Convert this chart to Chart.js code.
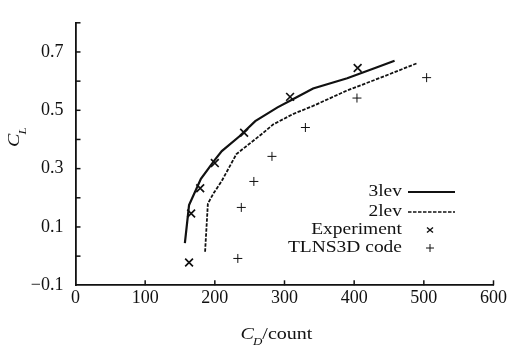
<!DOCTYPE html>
<html><head><meta charset="utf-8">
<script src="https://cdn.jsdelivr.net/npm/chart.js@4/dist/chart.umd.min.js"></script>
<style>html,body{margin:0;padding:0;background:#fff}#wrap{width:509px;height:346px;position:relative}</style>
</head><body><div id="wrap"><canvas id="c" width="509" height="346"></canvas></div>
<script>
// Data
const lev3X = [157,163,180,200,210,235,258,290,310,341,390,430,458];
const lev3Y = [0.045,0.175,0.265,0.33,0.36,0.41,0.463,0.51,0.535,0.575,0.61,0.645,0.67];
const lev2X = [186,190,198,210,231,267,284,313,341,389,437,490];
const lev2Y = [0.015,0.18,0.215,0.258,0.35,0.418,0.452,0.488,0.515,0.567,0.611,0.661];
const expX = [163,166,179,200,242,308,405];
const expY = [-0.022,0.146,0.233,0.319,0.423,0.546,0.645];
const tlnsX = [233,238,256,282,330,404,504];
const tlnsY = [-0.008,0.167,0.256,0.342,0.441,0.542,0.612];
const xTicks = [0,100,200,300,400,500,600];
const yLabels = [-0.1,0.1,0.3,0.5,0.7];
const seriesNames = ['3lev','2lev','Experiment','TLNS3D code'];

const toPts = (xs, ys) => xs.map((x, i) => ({x: x, y: ys[i]}));
const FONT = '"Liberation Serif", "DejaVu Serif", serif';
const INK = '#111';
const SX = 1.18; // horizontal stretch of the reference lettering

function stretchedText(ctx, txt, x, y, font, align) {
  ctx.save();
  ctx.font = font;
  const w = ctx.measureText(txt).width * SX;
  let left = x;
  if (align === 'right') left = x - w; else if (align === 'center') left = x - w / 2;
  ctx.translate(left, y);
  ctx.scale(SX, 1);
  ctx.textAlign = 'left';
  ctx.fillText(txt, 0, 0);
  ctx.restore();
  return w;
}

const overlay = {
  id: 'overlay',
  afterDraw(chart) {
    const ctx = chart.ctx, xs = chart.scales.x, ys = chart.scales.y;
    ctx.save();
    ctx.strokeStyle = INK; ctx.lineWidth = 1.5;
    // inward ticks
    for (let v = 100; v <= 600; v += 100) {
      const px = xs.getPixelForValue(v);
      ctx.beginPath(); ctx.moveTo(px, ys.bottom); ctx.lineTo(px, ys.bottom - 5); ctx.stroke();
    }
    for (let k = 0; k <= 8; k++) {
      const py = ys.getPixelForValue(k / 10);
      ctx.beginPath(); ctx.moveTo(xs.left, py); ctx.lineTo(xs.left + 5, py); ctx.stroke();
    }
    ctx.fillStyle = INK;
    ctx.textBaseline = 'alphabetic';
    const fMain = 'italic 17px ' + FONT, fSub = 'italic 11px ' + FONT, fReg = '17px ' + FONT;
    // x title: C_D/count
    ctx.font = fMain; const wC = ctx.measureText('C').width * SX;
    ctx.font = fSub; const wD = ctx.measureText('D').width * SX;
    ctx.font = fReg; const wR = ctx.measureText('/count').width * SX;
    const tx0 = 277 - (wC + wD + wR) / 2, tby = 339;
    stretchedText(ctx, 'C', tx0, tby, fMain, 'left');
    stretchedText(ctx, 'D', tx0 + wC - 1, tby + 6, fSub, 'left');
    stretchedText(ctx, '/count', tx0 + wC + wD - 1, tby, fReg, 'left');
    // y title: C_L rotated
    ctx.save();
    ctx.translate(19, 147);
    ctx.rotate(-Math.PI / 2);
    stretchedText(ctx, 'C', 0, 0, fMain, 'left');
    stretchedText(ctx, 'L', wC - 1, 7, fSub, 'left');
    ctx.restore();
    // legend
    ctx.textBaseline = 'middle';
    const lx = 402, rows = [192, 212, 230, 248];
    const legFont = '16.5px ' + FONT;
    rows.forEach((ry, i) => stretchedText(ctx, seriesNames[i], lx, ry, legFont, 'right'));
    ctx.lineWidth = 2;
    ctx.beginPath(); ctx.moveTo(408, rows[0]); ctx.lineTo(455, rows[0]); ctx.stroke();
    ctx.lineWidth = 1.6; ctx.setLineDash([3.5, 1.5]);
    ctx.beginPath(); ctx.moveTo(408, rows[1]); ctx.lineTo(455, rows[1]); ctx.stroke();
    ctx.setLineDash([]);
    ctx.lineWidth = 1.4;
    const mx = 430;
    ctx.beginPath();
    ctx.moveTo(mx - 3, rows[2] - 2.5); ctx.lineTo(mx + 3, rows[2] + 2.5);
    ctx.moveTo(mx + 3, rows[2] - 2.5); ctx.lineTo(mx - 3, rows[2] + 2.5);
    ctx.stroke();
    ctx.lineWidth = 1;
    ctx.beginPath();
    ctx.moveTo(mx - 4, rows[3]); ctx.lineTo(mx + 4, rows[3]);
    ctx.moveTo(mx, rows[3] - 4); ctx.lineTo(mx, rows[3] + 4);
    ctx.stroke();
    ctx.restore();
  }
};

new Chart(document.getElementById('c'), {
  type: 'scatter',
  data: {
    datasets: [
      {label: seriesNames[0], data: toPts(lev3X, lev3Y), showLine: true, borderColor: INK, borderWidth: 2.2, pointRadius: 0, fill: false, tension: 0},
      {label: seriesNames[1], data: toPts(lev2X, lev2Y), showLine: true, borderColor: INK, borderWidth: 1.8, borderDash: [3.5, 1.5], pointRadius: 0, fill: false, tension: 0},
      {label: seriesNames[2], data: toPts(expX, expY), showLine: false, pointStyle: 'crossRot', pointRadius: 5.5, borderColor: INK, borderWidth: 1.7},
      {label: seriesNames[3], data: toPts(tlnsX, tlnsY), showLine: false, pointStyle: 'cross', pointRadius: 4.5, borderColor: INK, borderWidth: 1}
    ]
  },
  options: {
    responsive: false, animation: false, devicePixelRatio: 1,
    layout: {padding: {top: 12, right: 15.5, left: 0, bottom: 0}},
    plugins: {legend: {display: false}, tooltip: {enabled: false}},
    scales: {
      x: {
        type: 'linear', min: 0, max: 600,
        afterBuildTicks: s => { s.ticks = xTicks.map(v => ({value: v})); },
        afterFit: s => { s.height = 60.7; },
        grid: {display: false, drawTicks: false},
        border: {display: true, color: INK, width: 1.8},
        ticks: {color: INK, font: {family: FONT, size: 18}, padding: 2, maxRotation: 0}
      },
      y: {
        type: 'linear', min: -0.1, max: 0.8,
        afterBuildTicks: s => { s.ticks = yLabels.map(v => ({value: v})); },
        afterFit: s => { s.width = 75.5; },
        grid: {display: false, drawTicks: false},
        border: {display: true, color: INK, width: 1.8},
        ticks: {color: INK, font: {family: FONT, size: 18}, padding: 12,
          callback: v => (v < 0 ? '\u2212' + Math.abs(v).toFixed(1) : v.toFixed(1))}
      }
    }
  },
  plugins: [overlay]
});
</script></body></html>
